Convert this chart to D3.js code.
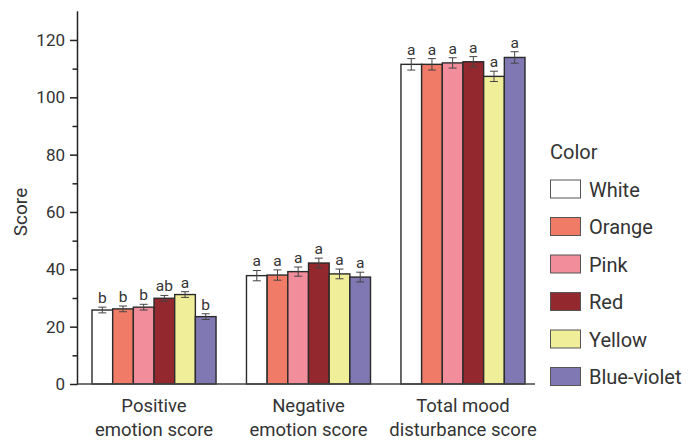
<!DOCTYPE html>
<html>
<head>
<meta charset="utf-8">
<script src="https://cdn.jsdelivr.net/npm/d3@7"></script>
<style>
  html, body { margin: 0; padding: 0; background: #fff; }
  svg { display: block; font-family: Roboto, "Noto Sans", sans-serif; }
</style>
</head>
<body>
<svg id="chart" width="693" height="442"></svg>
<script>
const groups = ["Positive emotion score", "Negative emotion score", "Total mood disturbance score"];
const groupLines = [["Positive", "emotion score"], ["Negative", "emotion score"], ["Total mood", "disturbance score"]];
const colorNames = ["White", "Orange", "Pink", "Red", "Yellow", "Blue-violet"];
const colorFills = ["#ffffff", "#f07c68", "#f28d9b", "#93282e", "#f1ee99", "#7f78b3"];
// values per group, in colorNames order
const positiveValues = [25.8, 26.2, 26.8, 29.9, 31.2, 23.5];
const negativeValues = [37.8, 38.0, 39.2, 42.2, 38.4, 37.3];
const totalValues = [111.5, 111.5, 112.0, 112.4, 107.3, 113.9];
const positiveErr = [1.0, 1.0, 1.0, 1.0, 1.0, 1.0];
const negativeErr = [1.8, 1.8, 1.6, 1.7, 1.7, 1.7];
const totalErr = [2.0, 2.0, 1.8, 1.8, 1.8, 2.0];
const positiveLetters = ["b", "b", "b", "ab", "a", "b"];
const negativeLetters = ["a", "a", "a", "a", "a", "a"];
const totalLetters = ["a", "a", "a", "a", "a", "a"];
const yTicks = [0, 20, 40, 60, 80, 100, 120];
const yMinorTicks = [10, 30, 50, 70, 90, 110];

const values = [positiveValues, negativeValues, totalValues];
const errs = [positiveErr, negativeErr, totalErr];
const letters = [positiveLetters, negativeLetters, totalLetters];

const svg = d3.select("#chart");
const axisX = 77.5;
const y = d3.scaleLinear().domain([0, 130]).range([384, 11.3]);
const x0 = d3.scaleBand().domain(groups).range([92, 525]).paddingInner(0.197).paddingOuter(0);
const x1 = d3.scaleBand().domain(colorNames).range([0, x0.bandwidth()]);
const color = d3.scaleOrdinal().domain(colorNames).range(colorFills);

const textColor = "#333";

// bars
groups.forEach((g, gi) => {
  const gg = svg.append("g").attr("transform", `translate(${x0(g)},0)`);
  colorNames.forEach((c, ci) => {
    const v = values[gi][ci], e = errs[gi][ci];
    const bx = x1(c), bw = x1.bandwidth();
    gg.append("rect")
      .attr("x", bx).attr("y", y(v))
      .attr("width", bw).attr("height", y(0) - y(v))
      .attr("fill", color(c)).attr("stroke", "#2b2b2b").attr("stroke-width", 1.4);
    const cx = bx + bw / 2;
    const eb = gg.append("g").attr("stroke", "#444").attr("stroke-width", 1);
    eb.append("line").attr("x1", cx).attr("x2", cx).attr("y1", y(v + e)).attr("y2", y(v - e));
    eb.append("line").attr("x1", cx - 4).attr("x2", cx + 4).attr("y1", y(v + e)).attr("y2", y(v + e));
    eb.append("line").attr("x1", cx - 4).attr("x2", cx + 4).attr("y1", y(v - e)).attr("y2", y(v - e));
    gg.append("text")
      .attr("x", cx).attr("y", y(v + e) - 4)
      .attr("text-anchor", "middle")
      .attr("font-size", 15.5).attr("fill", textColor)
      .text(letters[gi][ci]);
  });
});

// y axis
const yAxis = d3.axisLeft(y).tickValues(yTicks).tickSize(7.5).tickPadding(5).tickSizeOuter(0);
const ya = svg.append("g").attr("transform", `translate(${axisX},0)`).call(yAxis);
ya.select(".domain").remove();
ya.selectAll("line").attr("stroke", "#222").attr("stroke-width", 1.5);
ya.selectAll("text").attr("font-size", 17).attr("fill", textColor).attr("font-family", "Roboto, sans-serif");
const yMinor = d3.axisLeft(y).tickValues(yMinorTicks).tickSize(5).tickFormat("");
const ym = svg.append("g").attr("transform", `translate(${axisX},0)`).call(yMinor);
ym.select(".domain").remove();
ym.selectAll("line").attr("stroke", "#222").attr("stroke-width", 1.5);

svg.append("line").attr("x1", axisX).attr("x2", axisX).attr("y1", y(130)).attr("y2", y(0) + 0.75)
  .attr("stroke", "#222").attr("stroke-width", 1.5);
svg.append("line").attr("x1", axisX).attr("x2", 535).attr("y1", y(0)).attr("y2", y(0))
  .attr("stroke", "#444").attr("stroke-width", 1.5);

// y label
svg.append("text")
  .attr("transform", `translate(27,${y(60)}) rotate(-90)`)
  .attr("text-anchor", "middle").attr("font-size", 19).attr("fill", textColor)
  .text("Score");

// x labels
groups.forEach((g, gi) => {
  const cx = x0(g) + x0.bandwidth() / 2;
  const t = svg.append("text").attr("text-anchor", "middle").attr("font-size", 18.5).attr("fill", textColor);
  groupLines[gi].forEach((ln, li) => {
    t.append("tspan").attr("x", cx).attr("y", 412 + li * 23.5).text(ln);
  });
});

// legend
const lg = svg.append("g");
lg.append("text").attr("x", 550).attr("y", 158.5).attr("font-size", 20).attr("fill", textColor).text("Color");
colorNames.forEach((c, i) => {
  const cy = 189 + i * 37.5;
  lg.append("rect").attr("x", 550.5).attr("y", cy - 9).attr("width", 30).attr("height", 18)
    .attr("fill", color(c)).attr("stroke", "#555").attr("stroke-width", 1);
  lg.append("text").attr("x", 589).attr("y", cy + 7.5).attr("font-size", 20).attr("fill", textColor).text(c);
});
</script>
</body>
</html>
